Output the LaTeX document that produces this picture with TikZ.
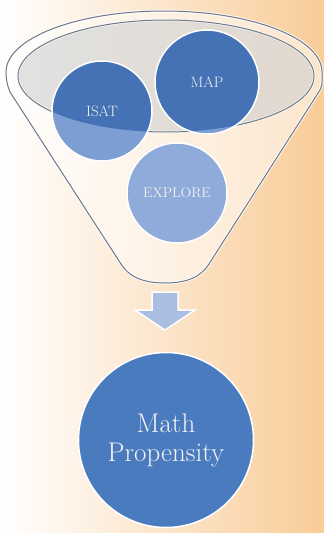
\documentclass[tikz,border=0pt]{standalone}
\usetikzlibrary{shapes.geometric}
\definecolor{bgorange}{HTML}{F9CC98}
\definecolor{bgmid}{HTML}{FDE8D2}
\definecolor{outline}{HTML}{6E7788}
\definecolor{darkblue}{HTML}{4472B4}
\definecolor{lightblue}{HTML}{7C9ED2}
\definecolor{exblue}{HTML}{8EABD9}
\definecolor{arrowblue}{HTML}{A9BEE0}
\definecolor{mathblue}{HTML}{4A7BBE}
\definecolor{txt}{HTML}{F2F2F2}
\tikzset{
  halo/.style={draw=white, line width=3pt, opacity=0.8},
  edge/.style={draw=outline, line width=1pt},
  bubble/.style={circle, inner sep=0pt, draw=white, line width=1.5pt, text=txt, font=\fontsize{15}{17}\selectfont},
}
\begin{document}
\begin{tikzpicture}[x=1pt,y=-1pt]
\useasboundingbox (0,0) rectangle (324,533);
% background
\shade[left color=white, middle color=bgmid, right color=bgorange] (0,0) rectangle (324,533);
% funnel outline
\def\funnelpath{(10,92) -- (121,264) .. controls (128,275) and (140,283) .. (165,283) .. controls (190,283) and (202,275) .. (209,264) -- (320,90) .. controls (323,85) and (322,78) .. (322,72) arc[start angle=0, end angle=-180, x radius=158, y radius=61] .. controls (6,78) and (7,85) .. (10,92) -- cycle}
\fill[white, opacity=0.5] \funnelpath;
\path[halo] \funnelpath;
\path[edge] \funnelpath;
% inner ellipse
\fill[gray!38, opacity=0.6] (166,76) ellipse[x radius=148, y radius=56];
\draw[white, line width=2.5pt, opacity=0.7] (166,76) ellipse[x radius=148, y radius=56];
\draw[edge] (166,76) ellipse[x radius=148, y radius=56];
% ISAT and MAP circles
\fill[lightblue] (102,111) circle (50);
\fill[lightblue] (207,82) circle (52);
\begin{scope}
  \clip (166,76) ellipse[x radius=148, y radius=56];
  \fill[darkblue] (102,111) circle (50);
  \fill[darkblue] (207,82) circle (52);
\end{scope}
\node[bubble, minimum size=100pt] (isat) at (102,111) {ISAT};
\node[bubble, minimum size=104pt] (map) at (207,82) {MAP};
\node[bubble, minimum size=100pt, fill=exblue, font=\fontsize{14}{16}\selectfont] (explore) at (177,193) {EXPLORE};
% arrow
\filldraw[fill=arrowblue, draw=white, line width=1.5pt, line join=miter] (152,292) -- (178,292) -- (178,310) -- (195,310) -- (165,330) -- (135,310) -- (152,310) -- cycle;
% result circle
\node[bubble, minimum size=175pt, fill=mathblue, align=center, font=\fontsize{27}{29}\selectfont] (math) at (166,440) {Math\\Propensity};
\end{tikzpicture}
\end{document}
